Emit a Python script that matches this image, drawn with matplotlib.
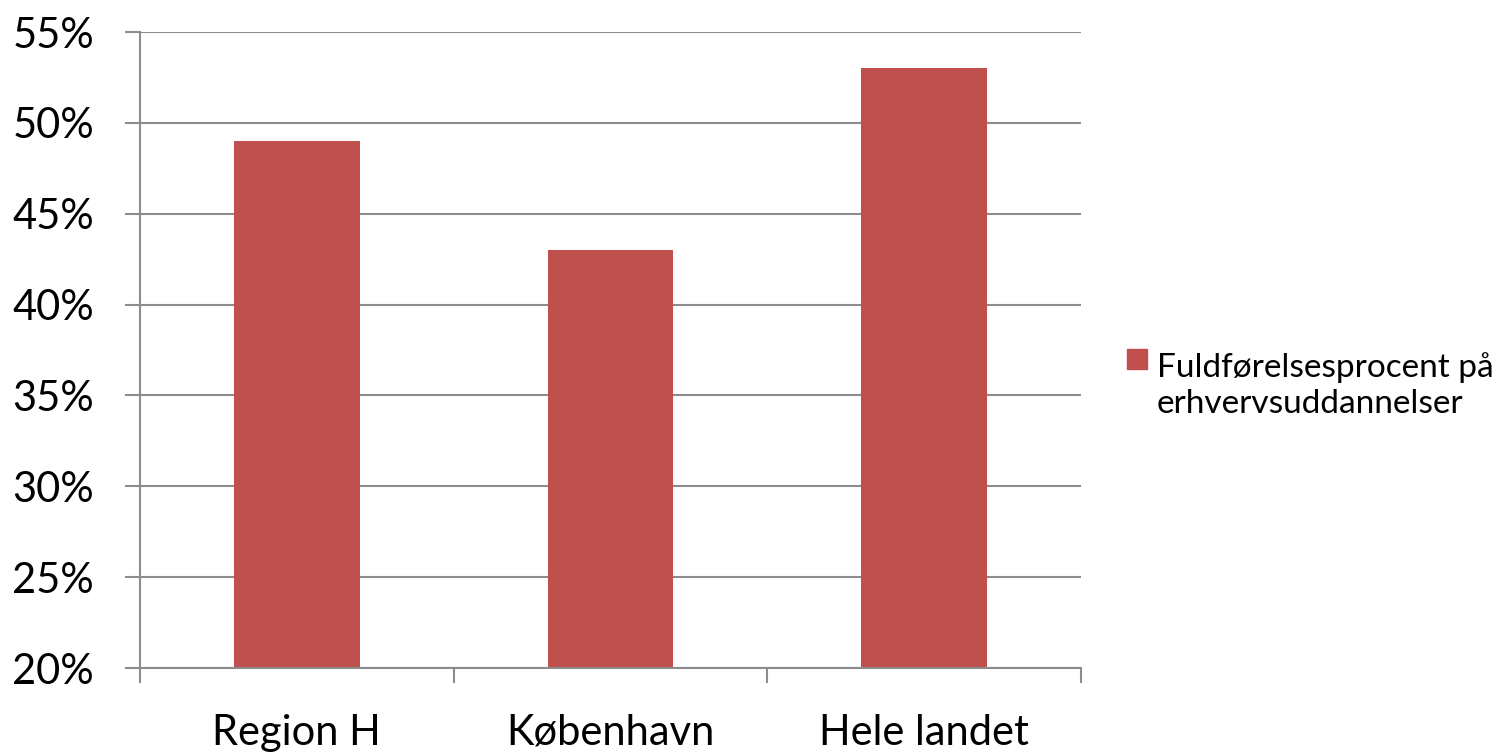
import matplotlib
matplotlib.use("Agg")
import matplotlib.pyplot as plt
import matplotlib.patches as mpatches
import numpy as np

categories = ["Region H", "København", "Hele landet"]
values = [49, 43, 53]
series_name = "Fuldførelsesprocent på\nerhvervsuddannelser"
yticks = [20, 25, 30, 35, 40, 45, 50, 55]

plt.rcParams['font.family'] = ['Lato', 'DejaVu Sans']

W, H = 1506, 752
fig = plt.figure(figsize=(W / 100, H / 100), dpi=100)
ax = fig.add_axes([140 / W, 1 - 668 / H, 941 / W, 636 / H])

grid_col = '#8c8c8c'
bar_col = '#C0504D'
x = np.arange(len(categories))
bars = ax.bar(x, values, width=0.4, color=bar_col, label=series_name, zorder=3)

ax.set_xlim(-0.5, len(categories) - 0.5)
ax.set_ylim(20, 55)
ax.set_yticks(yticks)
ax.set_yticklabels(['{}%'.format(t) for t in yticks], fontsize=30)
ax.yaxis.grid(True, color=grid_col, linewidth=1.5, zorder=0)

# category boundary ticks on x axis
ax.set_xticks(np.arange(-0.5, len(categories), 1.0))
ax.set_xticklabels([])
ax.set_xticks(x, minor=True)
ax.set_xticklabels(categories, minor=True, fontsize=30)
ax.tick_params(axis='x', which='major', length=11, width=1.5, color=grid_col, direction='out')
ax.tick_params(axis='x', which='minor', length=0, pad=33)
ax.tick_params(axis='y', length=11, width=1.5, color=grid_col, pad=22)

for side in ['top', 'right']:
    ax.spines[side].set_visible(False)
for side in ['left', 'bottom']:
    ax.spines[side].set_color(grid_col)
    ax.spines[side].set_linewidth(1.5)
    ax.spines[side].set_zorder(4)

# legend drawn by hand: square lined up with the first text line
fig.patches.append(mpatches.Rectangle((1127 / W, 1 - 369 / H), 20 / W, 20 / H,
                                      transform=fig.transFigure, color=bar_col))
# baseline alignment uses the last line here
fig.text(1157 / W, 1 - 413 / H, series_name, fontsize=24, va='baseline', ha='left',
         linespacing=1.25)

fig.savefig("out.png", dpi=100)
